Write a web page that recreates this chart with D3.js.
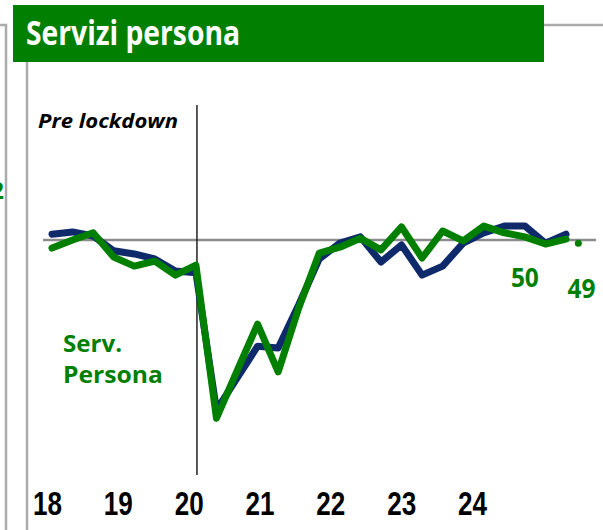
<!DOCTYPE html>
<html>
<head>
<meta charset="utf-8">
<script src="https://cdn.jsdelivr.net/npm/d3@7"></script>
<style>
    body { margin: 0; background: #fff; }
    svg { display: block; }
</style>
</head>
<body>
<svg id="chart" width="603" height="530"></svg>
<script>
/********************** DATA *************************/
// quarter index of each point (first quarter of 2018 = 0)
const quarters = d3.range(26);
// blue series (indice generale)
const blueValues = [51.3, 51.8, 50.9, 47.6, 46.9, 45.8, 43.1, 42.7, 12.2, 19.3, 26.4, 26.0, 35.6,
    45.8, 49.3, 50.7, 45.1, 48.9, 42.2, 44.2, 49.3, 51.6, 53.1, 53.1, 49.3, 51.3];
// green series (servizi persona)
const greenValues = [48.2, 50.0, 51.6, 46.2, 44.2, 45.3, 42.2, 44.4, 10.4, 20.9, 31.3, 20.7, 34.9,
    47.1, 48.4, 50.4, 47.8, 52.9, 46.0, 52.0, 49.8, 53.1, 51.6, 50.7, 49.1, 50.2];
// last single reading, drawn as a dot
const lastDot = { q: 25.6, value: 49.3 };
const yearLabels = ["18", "19", "20", "21", "22", "23", "24"];
const lockdownQ = 7.05; // pre lockdown marker
const endLabels = [{ text: "50", q: 23.0, value: 39.6 }, { text: "49", q: 25.75, value: 37.1 }];

const titleText = "Servizi persona";
const seriesName = ["Serv.", "Persona"];

/********************** CHART *************************/
class Chart {
    constructor() {
        this.svg = d3.select('#chart');
        this.green = '#007f00';
        this.blue = '#0f2a6b';
        this.grey = '#ababab';
    }

    draw = () => {
        this.setScales();
        this.drawFrame();
        this.drawTitle();
        this.drawReference();
        this.drawLines();
        this.drawLabels();
        this.drawYears();
    }

    setScales = () => {
        this.xScale = d3.scaleLinear().domain([0, 25]).range([52, 566]);
        // 50 sits on the grey line
        this.yScale = d3.scaleLinear().domain([50, 10]).range([240, 420]);
        // year labels are spread on their own
        this.yearScale = d3.scalePoint().domain(yearLabels).range([47, 472]);
    }

    drawFrame = () => {
        // grey box lines of the slide
        this.svg.append('path')
            .attr('d', 'M0,25H6V530')
            .attr('fill', 'none')
            .attr('stroke', this.grey)
            .attr('stroke-width', 2.5);
        this.svg.append('line')
            .attr('x1', 27).attr('x2', 27).attr('y1', 62).attr('y2', 530)
            .attr('stroke', this.grey).attr('stroke-width', 2.5);
        this.svg.append('line')
            .attr('x1', 544).attr('x2', 603).attr('y1', 25).attr('y2', 25)
            .attr('stroke', this.grey).attr('stroke-width', 2.5);
        // label of the previous panel, cut by the left edge
        this.svg.append('text')
            .attr('x', 4).attr('y', 199)
            .attr('text-anchor', 'end')
            .style('font', 'bold 24px "Open Sans", sans-serif')
            .style('fill', this.green)
            .text('52');
    }

    drawTitle = () => {
        this.svg.append('rect')
            .attr('x', 13).attr('y', 5)
            .attr('width', 531).attr('height', 57)
            .style('fill', this.green);
        this.svg.append('text')
            .attr('x', 26).attr('y', 45)
            .attr('textLength', 214)
            .attr('lengthAdjust', 'spacingAndGlyphs')
            .style('font', 'bold 34px "Open Sans", sans-serif')
            .style('fill', '#fff')
            .text(titleText);
    }

    drawReference = () => {
        // the 50 line
        this.svg.append('line')
            .attr('x1', 43).attr('x2', 596)
            .attr('y1', this.yScale(50)).attr('y2', this.yScale(50))
            .attr('stroke', '#8c8c8c').attr('stroke-width', 2.5);
        // lockdown marker
        const lx = this.xScale(lockdownQ);
        this.svg.append('line')
            .attr('x1', lx).attr('x2', lx).attr('y1', 105).attr('y2', 475)
            .attr('stroke', '#222').attr('stroke-width', 1.5);
        this.svg.append('text')
            .attr('x', 38).attr('y', 128)
            .attr('textLength', 140)
            .attr('lengthAdjust', 'spacingAndGlyphs')
            .style('font', 'italic bold 19px "Open Sans", sans-serif')
            .style('fill', '#000')
            .text('Pre lockdown');
    }

    drawLines = () => {
        const line = (vals) => d3.line()
            .x((d, i) => this.xScale(quarters[i]))
            .y(d => this.yScale(d))(vals);

        this.svg.append('path')
            .attr('d', line(blueValues))
            .attr('fill', 'none')
            .attr('stroke', this.blue)
            .attr('stroke-width', 7)
            .attr('stroke-linejoin', 'round')
            .attr('stroke-linecap', 'round');

        this.svg.append('path')
            .attr('d', line(greenValues))
            .attr('fill', 'none')
            .attr('stroke', this.green)
            .attr('stroke-width', 7)
            .attr('stroke-linejoin', 'round')
            .attr('stroke-linecap', 'round');

        this.svg.append('circle')
            .attr('cx', this.xScale(lastDot.q))
            .attr('cy', this.yScale(lastDot.value))
            .attr('r', 3.5)
            .style('fill', this.green);
    }

    drawLabels = () => {
        this.svg.selectAll('.endLabel')
            .data(endLabels)
            .enter().append('text')
            .attr('class', 'endLabel')
            .attr('x', d => this.xScale(d.q))
            .attr('y', d => this.yScale(d.value))
            .attr('text-anchor', 'middle')
            .attr('textLength', 28)
            .attr('lengthAdjust', 'spacingAndGlyphs')
            .style('font', 'bold 27px "Open Sans", sans-serif')
            .style('fill', this.green)
            .text(d => d.text);

        this.svg.selectAll('.seriesName')
            .data(seriesName)
            .enter().append('text')
            .attr('class', 'seriesName')
            .attr('x', 63)
            .attr('y', (d, i) => 352 + i * 31)
            .attr('textLength', (d, i) => i ? 100 : 59)
            .attr('lengthAdjust', 'spacingAndGlyphs')
            .style('font', 'bold 22.5px "Open Sans", sans-serif')
            .style('fill', this.green)
            .text(d => d);
    }

    drawYears = () => {
        const axis = d3.axisBottom(this.yearScale).tickSize(0).tickPadding(0);
        const g = this.svg.append('g')
            .attr('transform', 'translate(0,490)')
            .call(axis);
        g.select('.domain').remove();
        g.selectAll('text')
            .attr('dy', 0)
            .attr('y', 25)
            .attr('textLength', 29)
            .attr('lengthAdjust', 'spacingAndGlyphs')
            .style('font', 'bold 34px "Liberation Sans", sans-serif')
            .style('fill', '#000');
    }
}

const chart = new Chart();
chart.draw();
</script>
</body>
</html>
